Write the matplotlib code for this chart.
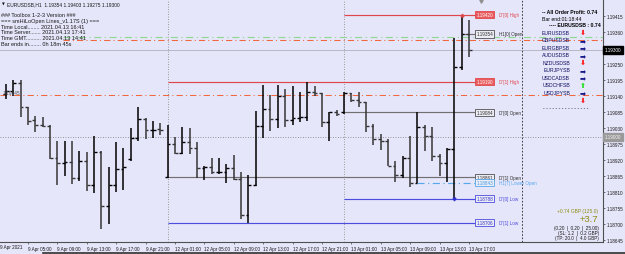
import matplotlib
matplotlib.use("Agg")
import numpy as np
import matplotlib.pyplot as plt
import matplotlib.transforms as mtransforms
from matplotlib.lines import Line2D

# H1 bars, 9 Apr 02:00 .. 13 Apr 17:00 (index 0..63)
opens = [1.19147, 1.19158, 1.19185, 1.19103, 1.19058, 1.19041, 1.19037, 1.18927, 1.18910, 1.18914,
         1.18859, 1.18917, 1.18835, 1.18948, 1.18763, 1.18835, 1.18890, 1.18924, 1.18996, 1.19062,
         1.19024, 1.19027, 1.18861, 1.18976, 1.18945, 1.18983, 1.18962, 1.18893, 1.18897, 1.18879,
         1.18879, 1.18893, 1.18855, 1.18732, 1.18835, 1.19037, 1.19096, 1.19062, 1.19141, 1.19058,
         1.19065, 1.19068, 1.19154, 1.19151, 1.19051, 1.19086, 1.19084, 1.19151, 1.19127, 1.19120,
         1.19037, 1.18993, 1.18986, 1.18900, 1.18869, 1.18927, 1.18843, 1.19034, 1.19003, 1.18934,
         1.18910, 1.18958, 1.19240, 1.19354]
highs = [1.19182, 1.19196, 1.19196, 1.19103, 1.19072, 1.19068, 1.19041, 1.18986, 1.18986, 1.18986,
         1.18952, 1.18948, 1.19003, 1.18952, 1.18897, 1.18983, 1.18962, 1.19031, 1.19103, 1.19065,
         1.19055, 1.19048, 1.19041, 1.19000, 1.19034, 1.19031, 1.18983, 1.18900, 1.18927, 1.18927,
         1.18907, 1.18938, 1.18879, 1.18869, 1.19089, 1.19178, 1.19144, 1.19178, 1.19165, 1.19175,
         1.19154, 1.19190, 1.19175, 1.19151, 1.19086, 1.19093, 1.19154, 1.19151, 1.19154, 1.19120,
         1.19044, 1.19010, 1.18993, 1.18917, 1.18934, 1.19003, 1.19086, 1.19041, 1.19034, 1.18941,
         1.18962, 1.19340, 1.19420, 1.19403]
lows = [1.19130, 1.19141, 1.19068, 1.19041, 1.19017, 1.19034, 1.18924, 1.18835, 1.18866, 1.18838,
        1.18849, 1.18815, 1.18808, 1.18684, 1.18701, 1.18811, 1.18818, 1.18917, 1.18986, 1.18993,
        1.18996, 1.19007, 1.18859, 1.18941, 1.18941, 1.18941, 1.18859, 1.18853, 1.18873, 1.18873,
        1.18842, 1.18853, 1.18718, 1.18706, 1.18831, 1.18996, 1.19020, 1.19031, 1.19034, 1.19041,
        1.19051, 1.19055, 1.19141, 1.19034, 1.18986, 1.19072, 1.19079, 1.19120, 1.19103, 1.19017,
        1.18972, 1.18955, 1.18900, 1.18845, 1.18859, 1.18828, 1.18843, 1.18952, 1.18917, 1.18866,
        1.18845, 1.18788, 1.19230, 1.19275]
closes = [1.19158, 1.19185, 1.19103, 1.19055, 1.19041, 1.19037, 1.18927, 1.18910, 1.18914, 1.18859,
          1.18917, 1.18835, 1.18948, 1.18763, 1.18835, 1.18890, 1.18897, 1.18996, 1.19062, 1.19024,
          1.19024, 1.19024, 1.18976, 1.18945, 1.18983, 1.18962, 1.18893, 1.18897, 1.18879, 1.18879,
          1.18893, 1.18855, 1.18732, 1.18835, 1.19037, 1.19096, 1.19062, 1.19141, 1.19058, 1.19065,
          1.19068, 1.19154, 1.19151, 1.19051, 1.19086, 1.19079, 1.19151, 1.19127, 1.19120, 1.19037,
          1.18993, 1.18986, 1.18900, 1.18869, 1.18927, 1.18843, 1.19034, 1.19003, 1.18934, 1.18910,
          1.18958, 1.19240, 1.19354, 1.19300]

time_tick_idx = [3, 7, 11, 15, 19, 23, 27, 31, 35, 39, 43, 47, 51, 55, 59, 63]
time_tick_lbl = ["9 Apr 05:00", "9 Apr 09:00", "9 Apr 13:00", "9 Apr 17:00", "9 Apr 21:00",
                 "12 Apr 01:00", "12 Apr 05:00", "12 Apr 09:00", "12 Apr 13:00", "12 Apr 17:00",
                 "12 Apr 21:00", "13 Apr 01:00", "13 Apr 05:00", "13 Apr 09:00", "13 Apr 13:00",
                 "13 Apr 17:00"]
day_starts = [22, 46]

price_ticks = [1.19415, 1.19360, 1.19250, 1.19195, 1.19140, 1.19085, 1.19030, 1.18975,
               1.18920, 1.18865, 1.18810, 1.18755, 1.18700, 1.18645]
bid = 1.19300
round_level = 1.19000

# smHiLoOpen levels
level_names = ["D'[0] High", "H1[0] Open", "D'[1] High", "D'[0] Open", "D'[1] Open",
               "H1[7] Lower Open", "D'[0] Low", "D'[1] Low"]
level_prices = [1.19420, 1.19354, 1.19190, 1.19084, 1.18861, 1.18843, 1.18788, 1.18706]
level_start = [46, 62, 22, 46, 22, 56, 46, 22]
level_kind = ["high", "open", "high", "open", "open", "lower", "low", "low"]

pivot_level = 1.19145
green_level = 1.19344
orange_level = 1.19334

symbols = ["EURUSDSB", "GBPUSDSB", "EURGBPSB", "AUDUSDSB", "NZDUSDSB",
           "EURJPYSB", "USDCADSB", "USDCHFSB", "USDJPYSB"]
signals = ["down", "right", "right", "right", "down", "right", "right", "up", "right", "down"]

BG = "#E6E6FA"
W, H = 625, 255
FONT = "Liberation Sans"

fig = plt.figure(figsize=(6.25, 2.55), dpi=100, facecolor=BG)
ax = fig.add_axes([0, 12 / H, 603 / W, 243 / H], facecolor=BG)

def fpx(x, y):
    return x / W, 1 - y / H

idx = np.arange(len(opens))
ups = np.array(closes) >= np.array(opens)
cols = np.where(ups, "#000000", "#353535")
tw = 0.38
ax.vlines(idx, lows, highs, colors=cols, lw=1.1, zorder=5)
ax.hlines(opens, idx - tw, idx, colors=cols, lw=1.0, zorder=5)
ax.hlines(closes, idx, idx + tw, colors=cols, lw=1.0, zorder=5)

ax.set_xlim(-0.8, 81.24)
ax.set_ylim(1.18639, 1.19474)

# reference lines
ax.axhline(bid, color="#b0b0bc", lw=0.6, zorder=1)
ax.axhline(round_level, color="#7a7a7a", lw=0.6, ls=(0, (1, 2)), zorder=1)
ax.axhline(pivot_level, color="#f0683c", lw=0.75, ls=(0, (6, 3, 1, 3)), zorder=2)
ax.hlines(green_level, 7.8, 81.24, color="#90d890", lw=0.85, ls=(0, (6, 3, 1, 3)), zorder=2)
ax.hlines(orange_level, 7.8, 81.24, color="#f0683c", lw=0.75, ls=(0, (6, 3, 1, 3)), zorder=2)
for d in day_starts:
    ax.axvline(d, color="#808080", lw=0.6, ls=(0, (1, 2)), zorder=1)
ax.axvline(70.2, color="#202020", lw=0.6, ls=(0, (2, 2)), zorder=1)
ax.plot([64.6], [1.19468], marker="v", ms=2.5, color="#909090", zorder=6, clip_on=False)

styles = {
    "high": dict(c="#e0474c", ls="-", fc="#e85a5e", tc="white", ec="#e0474c"),
    "open": dict(c="#707070", ls="-", fc="#ececf4", tc="#303030", ec="#505050"),
    "low": dict(c="#4c4ce0", ls="-", fc="#ececf4", tc="#3030d0", ec="#4c4ce0"),
    "lower": dict(c="#56a8ee", ls=(0, (6, 3, 1, 3)), fc="#ececf4", tc="#3c9cec", ec="#56a8ee"),
}
lab_x = 63.8
for name, p, s, k in zip(level_names, level_prices, level_start, level_kind):
    st = styles[k]
    ax.hlines(p, s, lab_x, color=st["c"], lw=0.85, ls=st["ls"], zorder=3)
    ax.text(lab_x + 0.2, p, f"{p:.5f}", fontsize=3.3, color=st["tc"], va="center", ha="left",
            family=FONT, zorder=7,
            bbox=dict(boxstyle="square,pad=0.25", fc=st["fc"], ec=st["ec"], lw=0.6))
    ax.text(lab_x + 3.3, p, name, fontsize=3.3, color=st["c"] if k != "open" else "#303030",
            va="center", ha="left", family=FONT, zorder=7)

# arrows on the extreme bars
ax.plot([61], [1.18788], marker="v", ms=2, color="#3030d0", zorder=6)
ax.plot([62], [1.19420], marker="^", ms=2, color="#e0474c", zorder=6)

# axes styling
ax.spines["left"].set_visible(False)
ax.spines["top"].set_color("#9a9aa8")
ax.spines["top"].set_linewidth(0.6)
for sp in ["right", "bottom"]:
    ax.spines[sp].set_color("#505050")
    ax.spines[sp].set_linewidth(0.8)

ax.yaxis.tick_right()
ax.set_yticks(price_ticks)
ax.set_yticklabels([f"{v:.5f}" for v in price_ticks], family=FONT, fontsize=3.3)
ax.tick_params(axis="y", direction="out", length=1.5, width=0.5, pad=1.5, colors="#404040")
ax.set_xticks(time_tick_idx)
ax.set_xticklabels(time_tick_lbl, ha="left", family=FONT, fontsize=3.3)
ax.tick_params(axis="x", direction="out", length=1.5, width=0.5, pad=1.5, colors="#404040")
for lbl in ax.get_xticklabels() + ax.get_yticklabels():
    lbl.set_color("#181818")
fig.text(*fpx(0.5, 248), "9 Apr 2021", fontsize=3.3, family=FONT, va="center", ha="left",
         color="#181818")

# price boxes on the axis
bt = mtransforms.blended_transform_factory(ax.transAxes, ax.transData)
ax.text(1.003, bid, f"{bid:.5f}", transform=bt, fontsize=3.3, family=FONT,
        color="white", va="center", ha="left", clip_on=False, zorder=8,
        bbox=dict(boxstyle="square,pad=0.3", fc="black", ec="black"))
ax.text(1.003, round_level, f"{round_level:.5f}", transform=bt, fontsize=3.3,
        family=FONT, color="#f4f4f4", va="center", ha="left", clip_on=False, zorder=8,
        bbox=dict(boxstyle="square,pad=0.3", fc="#9a9a9a", ec="#9a9a9a"))

# top-left info text
fig.text(*fpx(7, 5), "EURUSDSB,H1  1.19354 1.19403 1.19275 1.19300", fontsize=3.5,
         family=FONT, va="center", ha="left", color="#181818")
fig.text(*fpx(1.5, 5), "\u25bc", fontsize=2.6, va="center", ha="left", color="#181818")
info = [(15.5, "### Toolbox 1-2-3 Version ###"),
        (21.5, "=== smHiLoOpen Lines_v1.17S (1) ==="),
        (27.3, "Time Local........ 2021.04.13 16:41"),
        (33.0, "Time Server....... 2021.04.13 17:41"),
        (38.7, "Time GMT.......... 2021.04.13 14:41"),
        (44.4, "Bar ends in........ 0h 18m 45s")]
for yy, t in info:
    fig.text(*fpx(1, yy), t, fontsize=4.0, family=FONT, va="center", ha="left", color="#181818")
fig.text(*fpx(3, 93.5), "1.19145", fontsize=3.4, family=FONT, va="center",
         ha="left", color="#505050")

# right panel
fig.text(*fpx(542, 12.7), "-- All Order Profit: 0.74", fontsize=3.7, weight="bold",
         family=FONT, va="center", ha="left", color="black")
fig.text(*fpx(542, 19.3), "Bar end:01:18:44", fontsize=3.7, family=FONT,
         va="center", ha="left", color="black")
fig.text(*fpx(549, 25.7), "---- EURUSDSB : 0.74", fontsize=3.7, weight="bold",
         family=FONT, va="center", ha="left", color="black")
for k, s in enumerate(symbols):
    fig.text(*fpx(570, 33.3 + 7.5 * k), s, fontsize=3.7, family=FONT,
             va="center", ha="right", color="#101060")
arrow_glyph = {"down": ("\u2b07", "#ff2020"), "right": ("\u27a1", "#1a1a8c"),
               "up": ("\u2b06", "#30e030")}
for k, sgn in enumerate(signals):
    g, c = arrow_glyph[sgn]
    fig.text(*fpx(583, 33.3 + 7.5 * k), g, fontsize=5.2, family="DejaVu Sans",
             weight="bold", va="center", ha="center", color=c)
fig.text(*fpx(543, 108), "- - - - - - - - - - - - - - -", fontsize=3.7, family=FONT,
         va="center", ha="left", color="black")

fig.text(*fpx(598, 212), "+0.74 GBP (125.0)", fontsize=3.5, family=FONT,
         va="center", ha="right", color="#8c8c10")
fig.text(*fpx(598, 220), "+3.7", fontsize=6.8, family=FONT,
         va="center", ha="right", color="#8c8c10")
for yy, t in [(228.5, "(0.20  |  0.20  |  25.00)"), (233.5, "(SL: 1.2  |  0.2 GBP)"),
              (238.5, "(TP: 20.0  |  4.0 GBP)")]:
    fig.text(*fpx(599, yy), t, fontsize=3.3, family=FONT, va="center", ha="right",
             color="#181818")

fig.add_artist(Line2D([43 / W, 1], [1 / H, 1 / H], color="#303030", lw=1.2))

fig.savefig("out.png", dpi=100, facecolor=BG)
